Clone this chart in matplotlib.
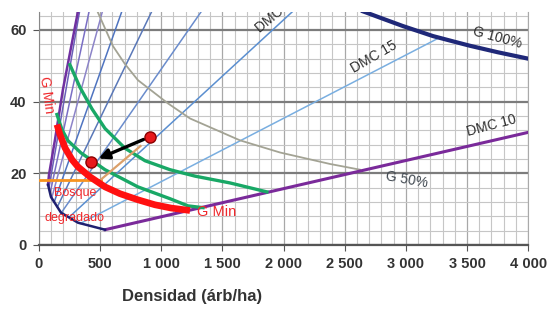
import matplotlib
matplotlib.use('Agg')
import matplotlib.pyplot as plt
from matplotlib.ticker import MultipleLocator
import numpy as np

plt.rcParams['font.family'] = ['Liberation Sans', 'DejaVu Sans']

# axis ticks
x_ticks = [0, 500, 1000, 1500, 2000, 2500, 3000, 3500, 4000]
x_tick_labels = ['0', '500', '1 000', '1 500', '2 000', '2 500', '3 000', '3 500', '4 000']
y_ticks = [0, 20, 40, 60]

# diameter lines (DMC, cm): G = N * pi * d^2 / 40000
dmc_diams = [15, 20, 25, 30, 35, 40, 45, 50]
dmc_colors = ['#79aee0', '#5b8fd0', '#6a8ccc', '#5a78b8', '#4f74c0', '#8c84c8', '#7a6fc4', '#6a5fb8']
dmc10_diam = 10

# curves (N arb/ha, G m2/ha)
g100_N = [2650, 2800, 2976, 3222, 3400, 3524, 3750, 4000]
g100_G = [65.2, 63.3, 61.1, 58.3, 56.7, 55.6, 53.8, 52.0]

g50_N = [482, 605, 703, 809, 1055, 1235, 1643, 1971, 2379, 2625]
g50_G = [64.9, 55.5, 50.5, 46.0, 39.5, 35.3, 29.2, 25.8, 22.6, 21.0]

green_hi_N = [253, 335, 433, 540, 703, 867, 1071, 1276, 1562, 1864]
green_hi_G = [50.3, 44.0, 38.0, 32.5, 27.0, 23.5, 21.0, 19.2, 17.3, 14.8]

green_lo_N = [147, 188, 237, 343, 540, 809, 1071, 1218, 1341]
green_lo_G = [36.4, 32.2, 29.1, 25.7, 21.0, 16.2, 12.9, 10.9, 10.4]

gmin_N = [147, 172, 213, 270, 319, 417, 540, 662, 809, 948, 1079, 1235]
gmin_G = [33.6, 30.8, 27.1, 23.8, 21.8, 19.0, 16.2, 14.3, 12.6, 11.2, 10.3, 9.6]

edge_up_N = [319, 196, 131, 82, 74]
edge_up_G = [65.2, 43.4, 29.4, 19.6, 16.8]
edge_low_N = [74, 98, 180, 319, 540]
edge_low_G = [16.8, 13.4, 9.0, 6.2, 4.24]

orange_N = [0, 505]
orange_G = [18.2, 18.2]
tan_N = [505, 830]
tan_G = [18.2, 27.6]

stand_N = [908, 425]   # from -> to
stand_G = [30.2, 23.2]

k = np.pi / 40000.0

fig = plt.figure(figsize=(5.49, 3.10), dpi=100)
ax = fig.add_axes([0.071, 0.21, 0.891, 0.751])
ax.set_xlim(0, 4000)
ax.set_ylim(0, 65)

# grid
ax.xaxis.set_minor_locator(MultipleLocator(100))
ax.yaxis.set_minor_locator(MultipleLocator(4))
ax.grid(which='minor', color='#c6c6c6', lw=0.8)
ax.grid(which='major', axis='x', color='#a8a8a8', lw=0.9)
ax.grid(which='major', axis='y', color='#7c7c7c', lw=1.6)
ax.set_axisbelow(True)

# DMC rays, from the lower edge up to G 100% / top
N = np.linspace(0, 4000, 8001)
floor = np.where(N < edge_low_N[0], np.inf, np.interp(N, edge_low_N, edge_low_G))
floor = np.where(N > edge_low_N[-1], k * dmc10_diam ** 2 * N, floor)
cap = np.where(N >= g100_N[0], np.interp(N, g100_N, g100_G), 70)
for d, c in zip(dmc_diams, dmc_colors):
    G = k * d * d * N
    G = np.where((G >= floor - 0.05) & (G <= cap), G, np.nan)
    ax.plot(N, G, color=c, lw=1.1, zorder=2)

# DMC 10 line
n10 = np.array([edge_low_N[-1], 4000])
ax.plot(n10, k * dmc10_diam ** 2 * n10, color='#7a2a9a', lw=2.2, zorder=4)

ax.plot(g50_N, g50_G, color='#a3a394', lw=1.3, zorder=3)
ax.plot(g100_N, g100_G, color='#1f2878', lw=3.0, zorder=4)
ax.plot(edge_up_N, edge_up_G, color='#7030a0', lw=1.8, zorder=4)
ax.plot(edge_low_N, edge_low_G, color='#1f2070', lw=1.8, zorder=4)

ax.plot(green_hi_N, green_hi_G, color='#19a866', lw=2.4, zorder=5)
ax.plot(green_lo_N, green_lo_G, color='#19a866', lw=2.4, zorder=5)
ax.plot(gmin_N, gmin_G, color='#ff1010', lw=4.8, zorder=6, solid_capstyle='butt')

ax.plot(orange_N, orange_G, color='#f7931e', lw=2.0, zorder=5)
ax.plot(tan_N, tan_G, color='#dba06a', lw=1.6, zorder=5)

ax.annotate('', xy=(stand_N[1], stand_G[1]), xytext=(stand_N[0], stand_G[0]),
            arrowprops=dict(arrowstyle='-|>', color='black', lw=2.4,
                            mutation_scale=15, shrinkA=5, shrinkB=6), zorder=7)
ax.plot(stand_N, stand_G, 'o', ms=8, color='#e8191c', mec='#8b0000', mew=1.0, zorder=8)

# labels on the chart
ax.text(3745, 57.9, 'G 100%', fontsize=10, color='#303030', rotation=-15,
        ha='center', va='center', zorder=9)
ax.text(2739, 52.6, 'DMC 15', fontsize=10, color='#303030', rotation=30,
        ha='center', va='center', zorder=9)
ax.text(3704, 33.3, 'DMC 10', fontsize=10, color='#303030', rotation=15,
        ha='center', va='center', zorder=9)
ax.text(3009, 18.2, 'G 50%', fontsize=10, color='#404850', rotation=-10,
        ha='center', va='center', zorder=9)
ax.text(1790, 60.0, 'DMC 20', fontsize=10, color='#303030', rotation=40,
        rotation_mode='anchor', ha='left', va='center', clip_on=True, zorder=9)
ax.text(1455, 9.2, 'G Min', fontsize=10.5, color='#f0282c', ha='center', va='center', zorder=9)
ax.text(65, 42, 'G Min', fontsize=10, color='#f0282c', rotation=-82,
        ha='center', va='center', zorder=9)
ax.text(294, 14.5, 'Bosque', fontsize=9, color='#f0282c', ha='center', va='center', zorder=9)
ax.text(294, 7.6, 'degradado', fontsize=9, color='#f0282c', ha='center', va='center', zorder=9)

# axes
ax.set_xticks(x_ticks)
ax.set_xticklabels(x_tick_labels)
ax.set_yticks(y_ticks)
ax.tick_params(which='minor', length=0)
ax.tick_params(which='major', length=4, color='#555555', labelsize=10.5,
               labelcolor='#333333', pad=5)
for lab in ax.get_xticklabels() + ax.get_yticklabels():
    lab.set_fontweight('bold')
ax.spines['top'].set_visible(False)
ax.spines['right'].set_color('#aaaaaa')
ax.spines['left'].set_color('#888888')
ax.spines['bottom'].set_color('#555555')
ax.spines['bottom'].set_linewidth(1.6)

ax.set_xlabel('Densidad (árb/ha)', fontsize=12, fontweight='bold', color='#333333')
ax.xaxis.set_label_coords(0.313, -0.19)

plt.savefig('out.png', dpi=100)
